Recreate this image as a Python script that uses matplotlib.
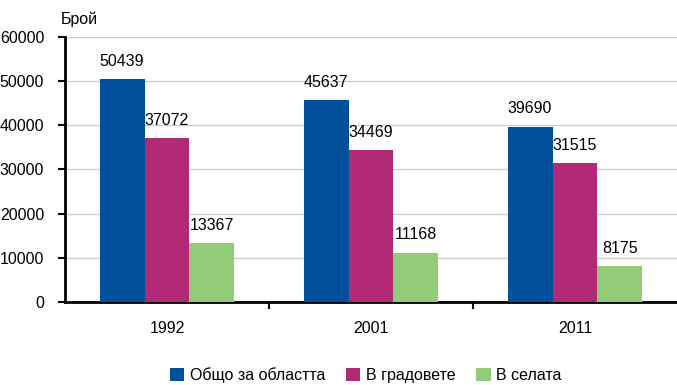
import matplotlib
matplotlib.use('Agg')
import matplotlib.pyplot as plt
import numpy as np

years = ['1992', '2001', '2011']
series_names = ['Общо за областта', 'В градовете', 'В селата']
total = [50439, 45637, 39690]
towns = [37072, 34469, 31515]
villages = [13367, 11168, 8175]
colors = ['#00509b', '#b22a76', '#92cc78']

plt.rcParams['font.family'] = ['Liberation Sans', 'DejaVu Sans']
plt.rcParams['font.size'] = 11.5

fig = plt.figure(figsize=(6.77, 3.85), dpi=100)
ax = fig.add_axes([0.096, 0.216, 0.904, 0.688])

x = np.arange(len(years))
w = 0.22
for i, (vals, name, c) in enumerate(zip([total, towns, villages], series_names, colors)):
    pos = x + (i - 1) * w
    bars = ax.bar(pos, vals, width=w, color=c, label=name, zorder=3)
    for b, v in zip(bars, vals):
        ax.text(b.get_x() + b.get_width() / 2, v + 2300, str(v),
                ha='center', va='bottom')

ax.set_xlim(-0.5, 2.5)
ax.set_ylim(0, 60000)
ax.set_yticks(range(0, 60001, 10000))
ax.yaxis.grid(True, color='#cccccc', linewidth=1, zorder=0)
ax.set_xticks(x)
ax.set_xticklabels(years)
ax.set_xticks([0.5, 1.5], minor=True)
ax.tick_params(axis='x', which='major', length=0, pad=14)
ax.tick_params(axis='x', which='minor', length=5, width=1.5, direction='out')
ax.tick_params(axis='y', length=5, width=1.5, direction='out', pad=10)

for s in ['top', 'right']:
    ax.spines[s].set_visible(False)
ax.spines['left'].set_linewidth(2)
ax.spines['bottom'].set_linewidth(2)

fig.text(0.09, 0.93, 'Брой', ha='left', va='bottom')

fig.legend(loc='center', bbox_to_anchor=(0.54, 0.025), ncol=3, frameon=False,
           handlelength=0.9, handleheight=0.9, handletextpad=0.35, columnspacing=1.3)

fig.savefig('out.png', dpi=100)
